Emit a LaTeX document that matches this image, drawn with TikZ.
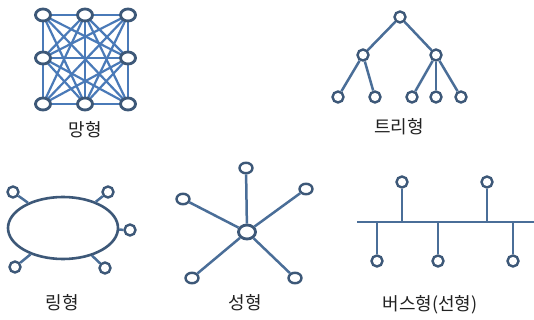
\documentclass[tikz,border=0pt]{standalone}
\usepackage{fontspec}
\setmainfont{Noto Sans CJK KR}
\usetikzlibrary{shapes.geometric}
\definecolor{nodec}{HTML}{3D5878}
\definecolor{meshc}{HTML}{4A7AB8}
\definecolor{linec}{HTML}{4A6E98}
\definecolor{textc}{HTML}{222222}
\tikzset{
  bignode/.style={ellipse,draw=nodec,line width=2.8pt,fill=white,minimum width=15pt,minimum height=12pt,inner sep=0pt},
  smallnode/.style={circle,draw=nodec,line width=2.4pt,fill=white,minimum size=11pt,inner sep=0pt},
  starnode/.style={ellipse,draw=nodec,line width=2.4pt,fill=white,minimum width=13pt,minimum height=10.5pt,inner sep=0pt},
  meshline/.style={draw=meshc,line width=2.2pt},
  link/.style={draw=linec,line width=2.5pt},
  lbl/.style={text=textc,font=\fontsize{18}{18}\selectfont,inner sep=0pt},
}
\begin{document}
\begin{tikzpicture}[x=1pt,y=-1pt]
\useasboundingbox[fill=white] (0,0) rectangle (534,320);
% ---------- Mesh ----------
\foreach \n/\x/\y in {m1/43/15,m2/85/15,m3/128/15,m4/43/58,m6/128/58,m7/43/104,m8/85/104,m9/128/104}
  \coordinate (\n) at (\x,\y);
\foreach \a/\b in {m1/m2,m1/m3,m1/m4,m1/m6,m1/m7,m1/m8,m1/m9,
                   m2/m3,m2/m4,m2/m6,m2/m7,m2/m8,m2/m9,
                   m3/m4,m3/m6,m3/m7,m3/m8,m3/m9,
                   m4/m6,m4/m7,m4/m8,m4/m9,
                   m6/m7,m6/m8,m6/m9,
                   m7/m8,m7/m9,m8/m9}
  \draw[meshline] (\a) -- (\b);
\foreach \n in {m1,m2,m3,m4,m6,m7,m8,m9}
  \node[bignode] (n\n) at (\n) {};
\node[lbl] (meshlbl) at (85,130) {망형};
% ---------- Tree ----------
\node[smallnode] (t0) at (400,17) {};
\node[smallnode] (t1) at (363,55) {};
\node[smallnode] (t2) at (436,55) {};
\node[smallnode] (t3) at (338,97) {};
\node[smallnode] (t4) at (375,97) {};
\node[smallnode] (t5) at (412,97) {};
\node[smallnode] (t6) at (436,97) {};
\node[smallnode] (t7) at (461,97) {};
\foreach \a/\b in {t0/t1,t0/t2,t1/t3,t1/t4,t2/t5,t2/t6,t2/t7}
  \draw[link] (\a) -- (\b);
\node[lbl] (treelbl) at (399,127) {트리형};
% ---------- Ring ----------
\node[ellipse,draw=nodec,line width=2.6pt,minimum width=110pt,minimum height=62pt,inner sep=0pt] (ring) at (63,228) {};
\node[smallnode] (r1) at (13,192) {};
\node[smallnode] (r2) at (108,192) {};
\node[smallnode] (r3) at (130,230) {};
\node[smallnode] (r4) at (15,267) {};
\node[smallnode] (r5) at (105,268) {};
\foreach \s in {r1,r2,r3,r4,r5}
  \draw[link] (\s) -- (ring);
\node[lbl] (ringlbl) at (62,303) {링형};
% ---------- Star ----------
\node[bignode,minimum width=17pt,minimum height=14pt] (sc) at (247,232) {};
\node[starnode] (s1) at (246,168) {};
\node[starnode] (s2) at (183,199) {};
\node[starnode] (s3) at (306,189) {};
\node[starnode] (s4) at (192,278) {};
\node[starnode] (s5) at (295,278) {};
\foreach \s in {s1,s2,s3,s4,s5}
  \draw[link] (sc) -- (\s);
\node[lbl] (starlbl) at (245,303) {성형};
% ---------- Bus ----------
\coordinate (busL) at (357,222);
\coordinate (busR) at (534,222);
\draw[link,line width=2.8pt] (busL) -- (busR);
\node[smallnode] (b1) at (402,182) {};
\node[smallnode] (b2) at (487,182) {};
\node[smallnode] (b3) at (377,261) {};
\node[smallnode] (b4) at (438,261) {};
\node[smallnode] (b5) at (513,261) {};
\foreach \n/\x in {b1/402,b2/487,b3/377,b4/438,b5/513}
  \coordinate (j\n) at (\x,222);
\foreach \n in {b1,b2,b3,b4,b5}
  \draw[link] (\n) -- (j\n);
\node[lbl] (buslbl) at (430,305) {버스형(선형)};
\end{tikzpicture}
\end{document}
